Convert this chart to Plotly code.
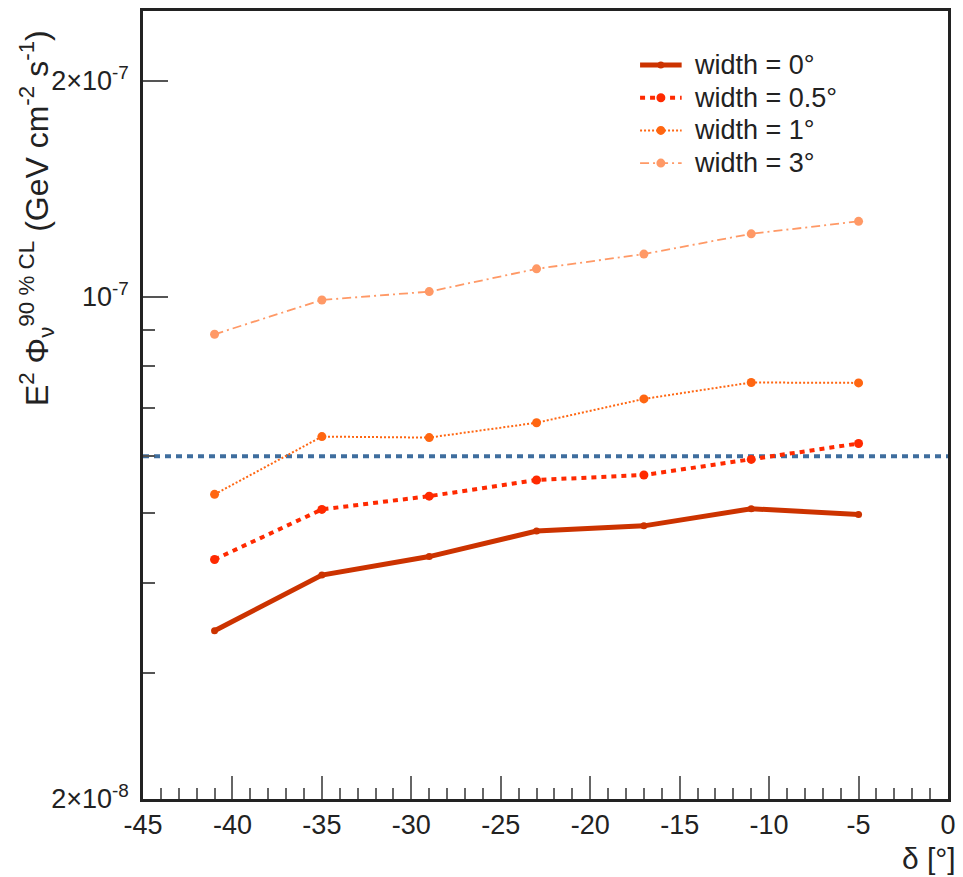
import plotly.graph_objects as go

# ---- data ----
declination = [-41, -35, -29, -23, -17, -11, -5]
flux_w0 = [3.43e-8, 4.10e-8, 4.35e-8, 4.72e-8, 4.80e-8, 5.07e-8, 4.98e-8]
flux_w05 = [4.31e-8, 5.06e-8, 5.28e-8, 5.56e-8, 5.65e-8, 5.94e-8, 6.25e-8]
flux_w1 = [5.31e-8, 6.39e-8, 6.37e-8, 6.68e-8, 7.21e-8, 7.60e-8, 7.59e-8]
flux_w3 = [8.87e-8, 9.90e-8, 1.017e-7, 1.094e-7, 1.147e-7, 1.224e-7, 1.274e-7]
series_names = ["width = 0°", "width = 0.5°", "width = 1°", "width = 3°"]
reference_level = 6e-8
ref_x = [-45, 0]

y_tickvals = [2e-8, 1e-7, 2e-7]
y_ticktext = ["2×10<sup>-8</sup>", "10<sup>-7</sup>", "2×10<sup>-7</sup>"]
y_minor = [3e-8, 4e-8, 5e-8, 6e-8, 7e-8, 8e-8, 9e-8]
x_tickvals = [-45, -40, -35, -30, -25, -20, -15, -10, -5, 0]
x_ticktext = ["-45", "-40", "-35", "-30", "-25", "-20", "-15", "-10", "-5", "0"]

FONT = "Liberation Sans, Arial, sans-serif"
W, H = 963, 877
ML, MR, MT, MB = 143, 7, 11, 78
PW, PH = W - ML - MR, H - MT - MB


def px_x(px):
    return (px - ML) / PW


def px_y(py):
    return 1 - (py - MT) / PH


styles = [
    dict(color="#CC3300", width=5, dash="solid", msize=7),
    dict(color="#FF2A00", width=4, dash="5px,5px", msize=9),
    dict(color="#FF6611", width=2, dash="2px,2px", msize=9),
    dict(color="#FF9966", width=1.8, dash="9px,4px,2px,4px", msize=9),
]
data = [flux_w0, flux_w05, flux_w1, flux_w3]

fig = go.Figure()

fig.add_trace(go.Scatter(
    x=ref_x, y=[reference_level, reference_level], mode="lines",
    line=dict(color="#3F6E9E", width=4, dash="6px,5px"),
    showlegend=False, hoverinfo="skip"))

for name, vals, st in zip(series_names, data, styles):
    fig.add_trace(go.Scatter(
        x=declination, y=vals, mode="lines+markers", name=name,
        line=dict(color=st["color"], width=st["width"], dash=st["dash"]),
        marker=dict(color=st["color"], size=st["msize"], symbol="circle"),
        showlegend=False,
    ))

# ---- manual legend (layout decoration) ----
shapes = []
annotations = []
leg_x0, leg_x1, leg_text_x = 645, 687, 697
leg_y0, leg_dy = 65, 32.7
for i, (name, st) in enumerate(zip(series_names, styles)):
    yc = leg_y0 + i * leg_dy
    shapes.append(dict(type="line", xref="paper", yref="paper",
                       x0=px_x(leg_x0), x1=px_x(leg_x1), y0=px_y(yc), y1=px_y(yc),
                       line=dict(color=st["color"], width=st["width"], dash=st["dash"])))
    r = st["msize"] / 2
    xm = (leg_x0 + leg_x1) / 2
    shapes.append(dict(type="circle", xref="paper", yref="paper",
                       x0=px_x(xm - r), x1=px_x(xm + r), y0=px_y(yc + r), y1=px_y(yc - r),
                       fillcolor=st["color"], line=dict(width=0)))
    annotations.append(dict(text=name, xref="paper", yref="paper",
                            x=px_x(leg_text_x), y=px_y(yc), xanchor="left", yanchor="middle",
                            showarrow=False, font=dict(size=27, color="#222")))

annotations.append(dict(
    text="E<sup>2</sup> Φ<sub>ν</sub><sup>90 % CL</sup> (GeV cm<sup>-2</sup> s<sup>-1</sup>)",
    xref="paper", yref="paper", x=px_x(35), y=px_y(28), xanchor="center", yanchor="top",
    textangle=-90, showarrow=False, font=dict(size=32, color="#222")))
annotations.append(dict(
    text="δ [°]", xref="paper", yref="paper", x=px_x(966), y=px_y(859),
    xanchor="right", yanchor="middle", showarrow=False, font=dict(size=30, color="#222")))

fig.update_layout(
    width=W, height=H,
    margin=dict(l=ML, r=MR, t=MT, b=MB),
    paper_bgcolor="white", plot_bgcolor="white",
    font=dict(family=FONT, size=27, color="#222"),
    showlegend=False,
    xaxis=dict(
        range=[-45, 0], tickmode="array", tickvals=x_tickvals, ticktext=x_ticktext,
        ticks="inside", ticklen=23, tickwidth=1.5, tickcolor="#666",
        minor=dict(dtick=1, tick0=0, ticks="inside", ticklen=11, tickwidth=1.5, tickcolor="#666"),
        showline=True, linecolor="#222", linewidth=2.5, mirror=True,
        showgrid=False, zeroline=False,
        tickfont=dict(size=27, color="#222"),
    ),
    yaxis=dict(
        type="log", range=[-7.69897, -6.60206],
        tickmode="array", tickvals=y_tickvals, ticktext=y_ticktext,
        ticks="inside", ticklen=25, tickwidth=1.5, tickcolor="#555",
        ticklabelstandoff=6,
        minor=dict(tickmode="array", tickvals=y_minor, ticks="inside", ticklen=12,
                   tickwidth=1.5, tickcolor="#555", showgrid=False),
        showline=True, linecolor="#222", linewidth=2.5, mirror=True,
        showgrid=False, zeroline=False,
        tickfont=dict(size=27, color="#222"),
    ),
    shapes=shapes,
    annotations=annotations,
)

fig.write_html("out.html")
